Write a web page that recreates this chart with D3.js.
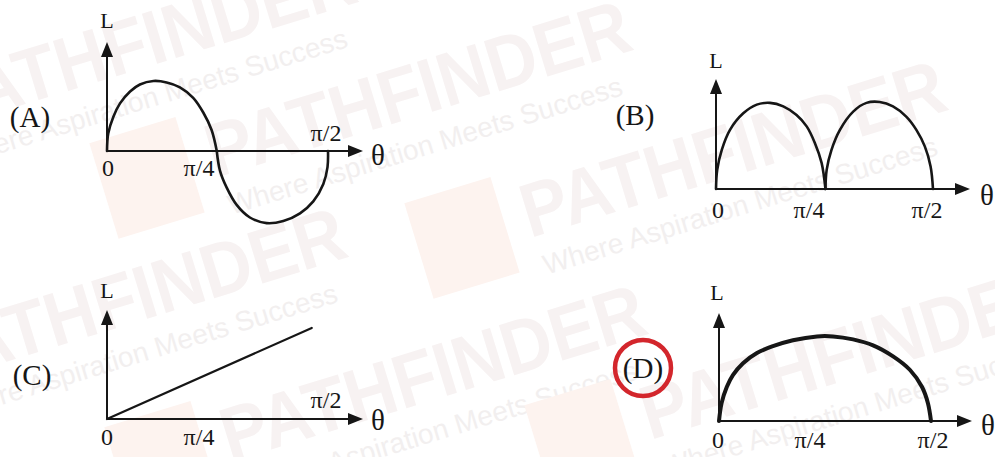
<!DOCTYPE html>
<html>
<head>
<meta charset="utf-8">
<script src="https://cdn.jsdelivr.net/npm/d3@7/dist/d3.min.js"></script>
<style>
  html, body { margin: 0; padding: 0; background: #ffffff; }
  svg { display: block; }
</style>
</head>
<body>
<svg id="chart" width="995" height="457"></svg>
<script>
// ---------------- DATA (θ in degrees, L in arbitrary units) ----------------
const panelNames = ["(A)", "(B)", "(C)", "(D)"];
const tickValues = [0, 45, 90];
const tickLabels = ["0", "π/4", "π/2"];
const axisLabelY = "L";
const axisLabelX = "θ";
const answer = "(D)";

const seriesA = [
  [0, 0], [0.5, 0.25], [2.6, 0.49], [5.3, 0.68], [9.4, 0.85], [13.4, 0.95],
  [18.9, 1.0], [24.3, 0.98], [29.7, 0.91], [35.1, 0.76], [39.2, 0.55],
  [42.6, 0.30], [44.7, 0],
  [46.0, -0.28], [48.7, -0.52], [52.8, -0.77], [58.2, -0.95], [65.0, -1.03],
  [71.8, -1.00], [78.6, -0.89], [84.0, -0.72], [88.1, -0.47], [89.8, -0.23], [90, 0]
];
const seriesB = [
  [0, 0], [0.5, 0.22], [2.4, 0.45], [5.8, 0.68], [11.3, 0.87], [16.9, 0.97],
  [22.4, 0.99], [27.9, 0.95], [33.4, 0.85], [37.6, 0.72], [41.0, 0.53],
  [43.8, 0.30], [45.4, 0],
  [45.9, 0.22], [47.9, 0.45], [51.4, 0.68], [56.9, 0.89], [62.4, 0.99],
  [67.9, 1.0], [73.4, 0.95], [79.0, 0.83], [83.1, 0.68], [86.6, 0.49],
  [89.0, 0.26], [90, 0]
];
const seriesC = [[0, 0], [83, 1.3]];
const seriesD = [
  [0, 0], [1.1, 0.21], [3.3, 0.40], [5.9, 0.54], [10.2, 0.68], [16.1, 0.80],
  [22.9, 0.88], [31.4, 0.95], [41.6, 0.995], [48.4, 0.995], [56.9, 0.96],
  [65.4, 0.89], [73.9, 0.76], [81.1, 0.60], [86.2, 0.40], [88.7, 0.21], [90, 0]
];

const watermarkBrand = "PATHFINDER";
const watermarkTag = "Where Aspiration Meets Success";

// ---------------- LAYOUT ----------------
const svg = d3.select("#chart");
svg.append("rect").attr("width", 995).attr("height", 457).attr("fill", "#ffffff");

// very faint watermark
const wm = svg.append("g");
const wmSpots = [
  { x: -60, y: 130 }, { x: 215, y: 178 }, { x: 530, y: 238 },
  { x: -70, y: 385 }, { x: 230, y: 462 }, { x: 650, y: 440 }
];
wmSpots.forEach(s => {
  const g = wm.append("g").attr("transform", `rotate(-17 ${s.x} ${s.y})`);
  g.append("rect").attr("x", s.x - 110).attr("y", s.y - 70).attr("width", 90).attr("height", 100)
    .attr("fill", "#fdf3ef");
  g.append("text").attr("x", s.x).attr("y", s.y)
    .attr("font-family", "Liberation Sans, Arial, sans-serif").attr("font-weight", "bold")
    .attr("font-size", 76).attr("textLength", 440).attr("lengthAdjust", "spacingAndGlyphs")
    .attr("fill", "#f7f2f2").text(watermarkBrand);
  g.append("text").attr("x", s.x + 5).attr("y", s.y + 40)
    .attr("font-family", "Liberation Sans, Arial, sans-serif")
    .attr("font-size", 28).attr("fill", "#f2efef").text(watermarkTag);
});

const panels = [
  { name: panelNames[0], data: seriesA, ox: 107, oy: 151, pxEnd: 328, unit: 70, yTip: 42, xTip: 363,
    nameX: 30, nameY: 117, lX: 107, lY: 20, thX: 378, thY: 155, width: 2.6,
    ticks: [{ x: 108, y: 168 }, { x: 199, y: 168 }, { x: 326, y: 133 }] },
  { name: panelNames[1], data: seriesB, ox: 716, oy: 189, pxEnd: 933, unit: 87, yTip: 79, xTip: 970,
    nameX: 635, nameY: 115, lX: 716, lY: 60, thX: 987, thY: 195, width: 2.6,
    ticks: [{ x: 718, y: 210 }, { x: 809, y: 210 }, { x: 927, y: 210 }] },
  { name: panelNames[2], data: seriesC, ox: 107, oy: 419, pxEnd: 329, unit: 70, yTip: 310, xTip: 363,
    nameX: 32, nameY: 375, lX: 107, lY: 290, thX: 378, thY: 420, width: 2.2,
    ticks: [{ x: 107, y: 437 }, { x: 199, y: 437 }, { x: 326, y: 400 }] },
  { name: panelNames[3], data: seriesD, ox: 719, oy: 421, pxEnd: 931, unit: 85, yTip: 313, xTip: 972,
    nameX: 643, nameY: 368, lX: 717, lY: 292, thX: 988, thY: 425, width: 4,
    ticks: [{ x: 718, y: 440 }, { x: 810, y: 440 }, { x: 933, y: 440 }] }
];

const serif = "Liberation Serif, Times New Roman, serif";
const ink = "#161616";

// split a series into arcs at interior zero points (cusps / crossings)
function splitArcs(data) {
  const arcs = [];
  let cur = [data[0]];
  for (let i = 1; i < data.length; i++) {
    cur.push(data[i]);
    if (data[i][1] === 0 && i < data.length - 1) {
      arcs.push(cur);
      cur = [data[i]];
    }
  }
  if (cur.length > 1) arcs.push(cur);
  return arcs;
}

panels.forEach(p => {
  const g = svg.append("g");
  const x = d3.scaleLinear().domain([0, 90]).range([p.ox, p.pxEnd]);
  const y = d3.scaleLinear().domain([0, 1]).range([p.oy, p.oy - p.unit]);

  // axes
  g.append("line").attr("x1", p.ox).attr("y1", p.oy).attr("x2", p.ox).attr("y2", p.yTip + 12)
    .attr("stroke", ink).attr("stroke-width", 2);
  g.append("line").attr("x1", p.ox).attr("y1", p.oy).attr("x2", p.xTip - 12).attr("y2", p.oy)
    .attr("stroke", ink).attr("stroke-width", 2);
  // arrowheads
  g.append("path").attr("d", `M${p.ox},${p.yTip} L${p.ox - 6},${p.yTip + 15} L${p.ox + 6},${p.yTip + 15} Z`)
    .attr("fill", ink);
  g.append("path").attr("d", `M${p.xTip},${p.oy} L${p.xTip - 15},${p.oy - 6} L${p.xTip - 15},${p.oy + 6} Z`)
    .attr("fill", ink);

  // curve
  const line = d3.line().x(d => x(d[0])).y(d => y(d[1])).curve(d3.curveCatmullRom.alpha(0.5));
  g.selectAll("path.arc").data(splitArcs(p.data)).join("path").attr("class", "arc")
    .attr("d", line)
    .attr("fill", "none").attr("stroke", ink).attr("stroke-width", p.width)
    .attr("stroke-linejoin", "round").attr("stroke-linecap", "round");

  // tick labels
  tickValues.forEach((v, i) => {
    g.append("text").attr("x", p.ticks[i].x).attr("y", p.ticks[i].y)
      .attr("text-anchor", "middle").attr("dominant-baseline", "central")
      .attr("font-family", serif).attr("font-size", 24).attr("fill", ink)
      .text(tickLabels[i]);
  });

  // axis labels
  g.append("text").attr("x", p.lX).attr("y", p.lY).attr("text-anchor", "middle")
    .attr("dominant-baseline", "central").attr("font-family", serif).attr("font-size", 22)
    .attr("fill", ink).text(axisLabelY);
  g.append("text").attr("x", p.thX).attr("y", p.thY).attr("text-anchor", "middle")
    .attr("dominant-baseline", "central").attr("font-family", serif).attr("font-size", 29)
    .attr("fill", ink).text(axisLabelX);

  // panel name
  g.append("text").attr("x", p.nameX).attr("y", p.nameY).attr("text-anchor", "middle")
    .attr("dominant-baseline", "central").attr("font-family", serif).attr("font-size", 29)
    .attr("fill", ink).text(p.name);

  if (p.name === answer) {
    g.append("circle").attr("cx", p.nameX).attr("cy", p.nameY).attr("r", 28)
      .attr("fill", "none").attr("stroke", "#d3262c").attr("stroke-width", 4.5);
  }
});
</script>
</body>
</html>
